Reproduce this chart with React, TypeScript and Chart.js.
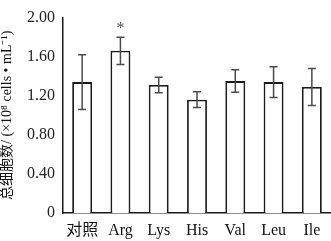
import React, { useEffect, useRef } from "react";
import { Chart, registerables } from "chart.js";

Chart.register(...registerables);

const categories = ["对照", "Arg", "Lys", "His", "Val", "Leu", "Ile"];
const means = [1.34, 1.66, 1.31, 1.16, 1.35, 1.34, 1.29];
const errors = [0.28, 0.14, 0.08, 0.08, 0.115, 0.157, 0.19];
const marks = ["", "*", "", "", "", "", ""];
const yTicks = [0, 0.4, 0.8, 1.2, 1.6, 2.0];

const SERIF = "'Liberation Serif', 'Times New Roman', 'Noto Sans CJK SC', serif";

const errorBarPlugin = {
  id: "errorBars",
  afterDatasetsDraw(chart: any) {
    const { ctx, scales } = chart;
    const meta = chart.getDatasetMeta(0);
    const y = scales.y;
    ctx.save();
    ctx.strokeStyle = "#4a4a4a";
    ctx.lineWidth = 1.5;
    meta.data.forEach((bar: any, i: number) => {
      const x = bar.x;
      const top = y.getPixelForValue(means[i] + errors[i]);
      const bot = y.getPixelForValue(means[i] - errors[i]);
      ctx.beginPath();
      ctx.moveTo(x, top);
      ctx.lineTo(x, bot);
      ctx.moveTo(x - 4, top);
      ctx.lineTo(x + 4, top);
      ctx.moveTo(x - 4, bot);
      ctx.lineTo(x + 4, bot);
      ctx.stroke();
      if (marks[i]) {
        ctx.fillStyle = "#555";
        ctx.font = "16px " + SERIF;
        ctx.textAlign = "center";
        ctx.textBaseline = "middle";
        ctx.fillText(marks[i], x, top - 8);
      }
    });
    ctx.restore();
  },
};

export default function App() {
  const ref = useRef<HTMLCanvasElement>(null);
  useEffect(() => {
    document.body.style.margin = "0";
    const chart = new Chart(ref.current!, {
      type: "bar",
      data: {
        labels: categories,
        datasets: [
          {
            data: means,
            backgroundColor: "#ffffff",
            borderColor: "#1a1a1a",
            borderWidth: 1.8,
            borderSkipped: "bottom",
            categoryPercentage: 0.52,
            barPercentage: 1,
          },
        ],
      },
      options: {
        animation: false,
        responsive: false,
        maintainAspectRatio: false,
        layout: { padding: { top: 9, right: 0, left: 0, bottom: 0 } },
        plugins: { legend: { display: false }, tooltip: { enabled: false } },
        scales: {
          x: {
            grid: { display: false, drawTicks: false },
            border: { display: true, color: "#1a1a1a", width: 1.5 },
            ticks: { color: "#111", font: { family: SERIF, size: 16 }, padding: 8 },
            afterFit(scale: any) {
              scale.height = 28;
            },
          },
          y: {
            min: 0,
            max: 2,
            afterBuildTicks(scale: any) {
              scale.ticks = yTicks.map((v) => ({ value: v }));
            },
            grid: { display: false, drawTicks: false },
            border: { display: true, color: "#1a1a1a", width: 1.5 },
            ticks: {
              color: "#222",
              font: { family: SERIF, size: 16 },
              padding: 8,
              callback: (v: any) => (Number(v) === 0 ? "0" : Number(v).toFixed(2)),
            },
            title: {
              display: true,
              text: "总细胞数/ (×10⁸ cells • mL⁻¹)",
              color: "#111",
              font: { family: SERIF, size: 14, lineHeight: 1 },
              padding: { top: 0, bottom: 0 },
            },
            afterFit(scale: any) {
              scale.width = 63;
            },
          },
        },
      },
      plugins: [errorBarPlugin],
    });
    return () => chart.destroy();
  }, []);
  return (
    <div style={{ width: 331, height: 241 }}>
      <canvas ref={ref} width={331} height={241} style={{ display: "block" }} />
    </div>
  );
}
